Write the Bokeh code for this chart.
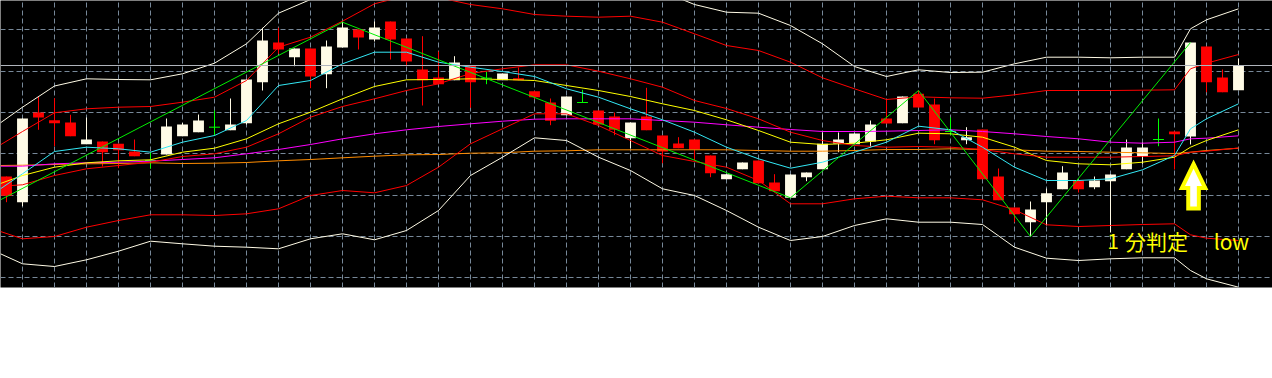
from bokeh.plotting import figure
from bokeh.models import Range1d, FixedTicker, Span, ColumnDataSource, Grid
from bokeh.embed import file_html
from bokeh.resources import INLINE
from bokeh.core.properties import value

# ---------------- data (price points) ----------------
OPEN = [124, 98.3, 188, 180.3, 178, 156.3, 159, 156.7, 149, 140,
        146, 164.3, 168.3, 173.3, 170.3, 177.3, 218.3, 258, 243.3, 252,
        226.3, 253, 271, 261, 279, 262, 231, 223, 220.3, 235,
        222.3, 220.3, 222.3, 209.3, 198, 185.3, 198, 190, 184, 162.3,
        184, 165, 157, 161, 145, 121.3, 131.3, 140, 118, 102.7,
        123.3, 131.3, 157, 156.3, 159, 182, 177.3, 206.7, 196, 169,
        160.3, 171, 124, 93, 78.3, 98.3, 111.3, 120, 113.3, 119.3,
        131.3, 144, 161, 169, 164, 254, 223, 210.3]
HIGH = [124, 182, 204, 202.3, 185.7, 183, 159, 156.7, 161, 148.3,
        182, 177.7, 186, 190, 202, 221, 272.7, 272.7, 252, 252,
        260, 278.3, 271, 279, 279, 262, 264.3, 249, 244.3, 235,
        229, 227, 233, 209.3, 202, 204, 210.7, 190, 188, 178,
        212.7, 165, 163.3, 161, 145, 126.3, 138, 140, 126.3, 126,
        128, 168, 168, 167, 180, 200.7, 204, 210, 202, 183,
        173.3, 171, 132, 93, 99, 112, 134.3, 120, 124, 126,
        161, 158, 182, 169, 258, 254, 231, 242]
LOW = [98.3, 94.3, 170.7, 154.3, 164.3, 156.3, 134, 132.3, 144.3, 131.7,
       146, 164.3, 168.3, 164.7, 170.3, 176, 210, 246.7, 234.3, 212.3,
       212.3, 253, 251, 259, 241, 234.3, 195, 216.3, 220.3, 192.7,
       216.3, 220.3, 220.3, 201.3, 175.3, 185.3, 198, 176, 165.3, 152.3,
       170.3, 137.3, 152.3, 140, 123.3, 121.3, 131.3, 117.3, 109.3, 102.7,
       119.3, 131.3, 148.3, 156.3, 153.3, 177, 177.3, 193, 156.3, 165.3,
       156.3, 121.3, 100.3, 78.3, 64, 75, 111.3, 108, 111.3, 68,
       131.3, 136.7, 154.3, 131, 156, 208.3, 208.3, 210.3]
CLOSE = [104.7, 182, 183, 177.3, 164.3, 161, 148.3, 150.3, 144.3, 140,
         174, 176, 180, 173.3, 176, 221, 260, 251, 252, 224,
         254, 273, 263, 273, 261, 239, 220.3, 216.3, 238, 218.3,
         222.3, 227, 220.3, 203.3, 179.7, 204, 198, 176, 170.7, 178,
         170.3, 149, 152.3, 151, 127.3, 126.3, 138, 117.3, 109.3, 126,
         128, 156.7, 161, 167, 176, 177, 204, 193, 160.3, 169,
         163.3, 121.3, 100.3, 86.3, 91, 107.3, 128, 111.3, 120, 126,
         153, 153, 161, 166.3, 258, 218.3, 208.3, 235]

# indicator sample bars (left edge, every other bar, plus the breakout bar)
LINE_X = [-0.375] + list(range(1, 74, 2)) + [74, 75, 77]

BB3_UP = [177.7, 193.3, 214.5, 221.7, 221, 220.7, 226.7, 237.3, 256.7, 287.3, 301,
          322, 344, 352, 342, 331, 322, 311, 309, 310, 316, 309, 296, 288.3, 287.3, 275,
          256.7, 234, 224, 230.7, 228, 228.3, 236.7, 243.3, 243.3, 242.7, 243.3, 243.3,
          271.7, 280.7, 291.7]
BB2_UP = [155.7, 169, 187.7, 191.7, 193.3, 194, 198.3, 203.3, 220, 253.3, 263.3,
          279.3, 296.7, 305, 303, 296, 291.7, 286, 284.3, 283.3, 284.3, 278.3, 266.7, 255, 250, 238.3,
          222.7, 211.7, 201, 203.7, 202.7, 202.3, 205.7, 210, 210, 210, 210.3, 210.7,
          231.7, 237.3, 246]
BB_MID = [114.3, 115.7, 125, 131.7, 135, 138.3, 144, 146.7, 153.3, 166.7, 183.3,
          194, 201.7, 210, 216.7, 227, 231.7, 235.7, 235.7, 229.3, 221.7, 213.3, 200, 192, 181.7, 168.3,
          160, 155, 153.3, 154, 153.3, 151, 146.7, 143.3, 143.3, 143.3, 144, 144.7,
          148.3, 149.3, 152.5]
BB2_DN = [69, 61.7, 64, 73.3, 80, 85.7, 85.7, 85, 86.7, 91.7, 105,
          110, 107.7, 115, 133.3, 156.7, 171.7, 186.7, 186.7, 175, 160, 145, 139, 133.3, 120, 96.7,
          96.7, 101.7, 104.3, 102.7, 102.7, 100.7, 90.7, 75.7, 74, 75, 76, 76.7,
          65.7, 62.3, 60]
BB3_DN = [46.7, 36.7, 34, 40.7, 49.3, 59.3, 56.7, 54.3, 53.3, 51.7, 61.7,
          66.7, 60.7, 70, 90, 125, 143.3, 162.7, 160, 143.3, 130, 111.7, 105, 90, 73.3, 60,
          64, 75, 81.7, 78.3, 78.3, 76, 53.3, 42.3, 40, 41.7, 42.7, 42.7,
          30, 21.7, 13.3]
MA_FAST = [111.7, 126.7, 149, 153.3, 151.7, 148.3, 158.3, 165, 180, 215, 220,
           236.7, 248.3, 248.3, 238.3, 233.3, 229, 224, 211.7, 203.3, 191.7, 180.7, 168.3, 153.3, 141.7, 132.3,
           138.3, 148.3, 158.3, 174.3, 170.7, 153.3, 133.3, 120, 120, 121.7, 130.7, 145,
           171.7, 181.7, 196.7]
MA_MID = [117, 125, 133.3, 137.7, 139.7, 140.7, 148.3, 152.3, 161.7, 176.7, 188.3,
          201.7, 214, 220.7, 221, 221.7, 221, 220, 215, 210, 204, 196.7, 190, 180.7, 170, 158.3,
          156, 157.3, 160.7, 167.3, 166.7, 163.3, 153.3, 140, 136.7, 135.7, 138.3, 143.3,
          153.3, 160, 170.7]
MA_SLOW = [134.3, 134.3, 136.7, 137.7, 138.3, 139.3, 141, 142.7, 146.7, 151, 156,
           161.7, 166.7, 170.7, 174, 176.7, 179.3, 181.3, 181.7, 181.7, 181.7, 180, 178.3, 175.7, 173.3, 171,
           169, 169, 169.3, 170, 170.7, 169, 166.7, 164, 161.7, 158.3, 157.3, 158.3,
           161.7, 162.3, 164.7]
MA_LONG = [135, 135.3, 136, 136.7, 137, 137.7, 137, 137.3, 138, 139.7, 141,
           142.7, 144.3, 145.7, 146, 147.3, 147.7, 149.3, 149.7, 150.7, 150.7, 150.7, 150.7, 150.7, 150, 149.3,
           149.3, 150, 151, 151, 151.7, 151, 150.7, 149.3, 149, 148.3, 147.7, 147,
           148.3, 150, 152.3]

ZZ_START = 100.7            # zigzag value at the left edge
ZZ_PIVOTS = [(21, "H"), (49, "L"), (57, "H"), (64, "L"), (74, "H")]

GRID_PRICES = [270.7, 229.4, 188.0, 146.7, 105.4, 64.0, 22.7]
GRID_BARS = list(range(1, 78, 2))

LABEL_PARTS = ["1", "分判定", "low"]
LABEL_BARS = [68.8, 69.9, 75.45]
LABEL_PRICE = 60
ARROW_BAR, ARROW_TIP, ARROW_BASE = 74.19, 136.5, 92

# ---------------- figure ----------------
p = figure(width=1272, height=378, output_backend="svg", toolbar_location=None,
           x_axis_location=None, y_axis_location=None,
           x_range=Range1d(-0.375, 79.125), y_range=Range1d(13, 300),
           min_border_left=0, min_border_right=0, min_border_top=0, min_border_bottom=91,
           background_fill_color="#000000", border_fill_color="#ffffff",
           outline_line_color=None)
p.grid.visible = False

GRID_COLOR = "#778899"
p.add_layout(Grid(dimension=0, ticker=FixedTicker(ticks=GRID_BARS),
                  grid_line_color=GRID_COLOR, grid_line_dash="5 3", grid_line_width=1))
p.add_layout(Grid(dimension=1, ticker=FixedTicker(ticks=GRID_PRICES),
                  grid_line_color=GRID_COLOR, grid_line_dash="5 3", grid_line_width=1))

BULL = "#FFFBE6"
BEAR = "#FF0000"
DOJI = "#00FF00"

n = len(OPEN)
xs = list(range(n))
norm = [i for i in xs if OPEN[i] != CLOSE[i]]
doj = [i for i in xs if OPEN[i] == CLOSE[i]]
col = [BULL if CLOSE[i] > OPEN[i] else BEAR for i in norm]
src = ColumnDataSource(dict(
    x=norm, h=[HIGH[i] for i in norm], l=[LOW[i] for i in norm],
    top=[max(OPEN[i], CLOSE[i]) for i in norm],
    bot=[min(OPEN[i], CLOSE[i]) for i in norm], c=col))
p.segment(x0="x", y0="l", x1="x", y1="h", line_color="c", line_width=1, source=src)
p.vbar(x="x", width=0.68, top="top", bottom="bot", fill_color="c", line_color=None, source=src)

dsrc = ColumnDataSource(dict(
    x=doj, h=[HIGH[i] for i in doj], l=[LOW[i] for i in doj], o=[OPEN[i] for i in doj],
    xl=[i - 0.34 for i in doj], xr=[i + 0.34 for i in doj]))
p.segment(x0="x", y0="l", x1="x", y1="h", line_color=DOJI, line_width=1, source=dsrc)
p.segment(x0="xl", y0="o", x1="xr", y1="o", line_color=DOJI, line_width=1, source=dsrc)

# bid line at last close
p.add_layout(Span(location=CLOSE[-1], dimension="width", line_color="#B0B4BC", line_width=1))

for vals, color in [(MA_LONG, "#FF8C00"), (MA_SLOW, "#FF00FF"), (MA_MID, "#FFFF00"),
                    (BB3_UP, "#FFFBE6"), (BB3_DN, "#FFFBE6"),
                    (BB2_UP, "#FF0000"), (BB2_DN, "#FF0000"), (BB_MID, "#FF0000"),
                    (MA_FAST, "#33E8F5")]:
    p.line(LINE_X, vals, line_color=color, line_width=1)

zz_x = [-0.375] + [b for b, _ in ZZ_PIVOTS]
zz_y = [ZZ_START] + [HIGH[b] if k == "H" else LOW[b] for b, k in ZZ_PIVOTS]
p.line(zz_x, zz_y, line_color="#00EE00", line_width=1)

# annotation text
p.text(x=LABEL_BARS, y=[LABEL_PRICE] * len(LABEL_PARTS), text=LABEL_PARTS,
       text_font=value("Noto Sans CJK JP"), text_font_size="21px", text_font_style="normal",
       text_color="#FFFF00", text_baseline="middle", text_align="left")

# up arrow
px = 1 / 16.0
hw, sw, hl = 11.7 * px, 5.3 * px, 24
hb = ARROW_TIP - hl
ax = [ARROW_BAR, ARROW_BAR + hw, ARROW_BAR + sw, ARROW_BAR + sw,
      ARROW_BAR - sw, ARROW_BAR - sw, ARROW_BAR - hw]
ay = [ARROW_TIP, hb, hb, ARROW_BASE, ARROW_BASE, hb, hb]
p.patch(ax, ay, fill_color="#FFFFFF", line_color="#FFFF00", line_width=4, line_join="miter")

open("out.html", "w").write(file_html(p, INLINE))
